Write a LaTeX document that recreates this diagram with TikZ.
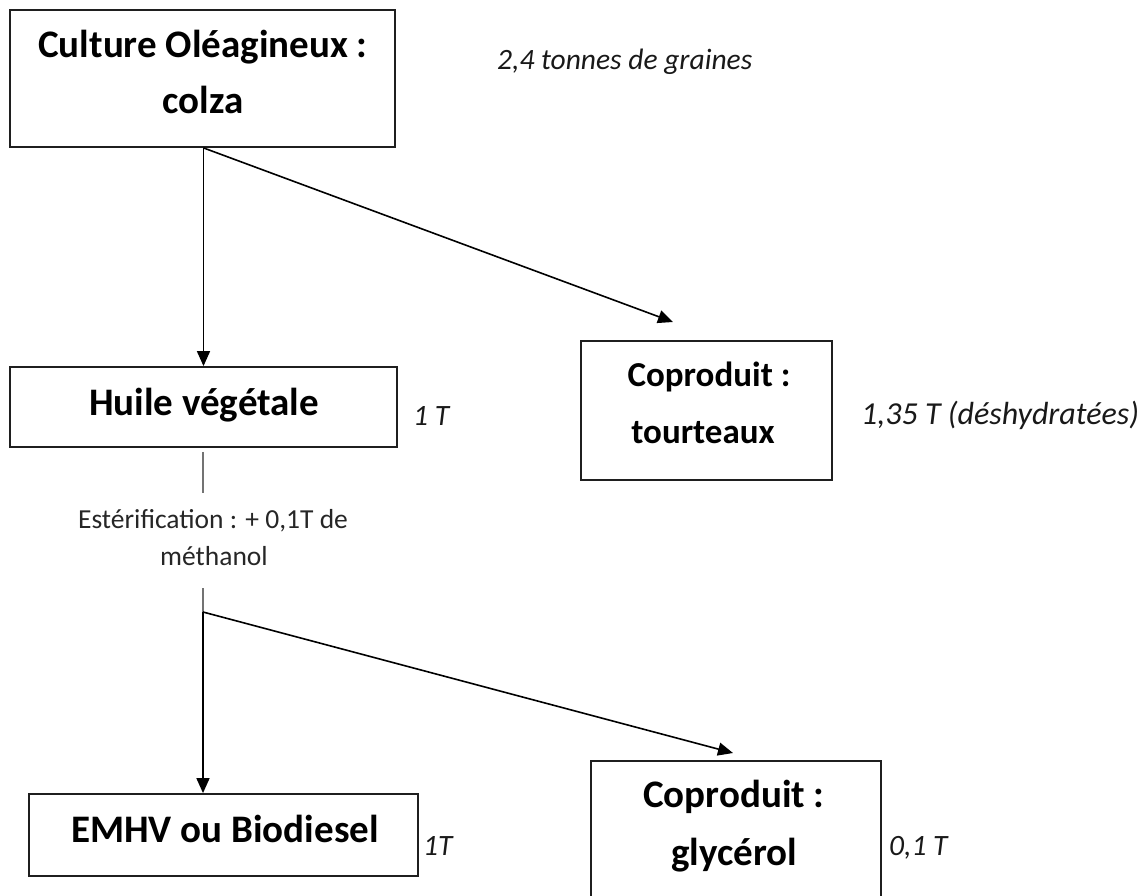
\documentclass[tikz,border=0pt]{standalone}
\usepackage{fontspec}
\setmainfont{Carlito}
\usetikzlibrary{arrows.meta}
\begin{document}
\begin{tikzpicture}[x=1pt,y=-1pt,
  boxshape/.style={draw=black!88, line width=1.8pt, inner sep=0pt},
  bigtext/.style={font=\bfseries\fontsize{39}{47}\selectfont, inner sep=0pt, anchor=base},
  midtext/.style={font=\bfseries\fontsize{35}{42}\selectfont, inner sep=0pt, anchor=base},
  qty/.style={font=\itshape\fontsize{29.5}{35}\selectfont, inner sep=0pt, anchor=base west, text=black!90},
  note/.style={font=\fontsize{27.5}{33}\selectfont, inner sep=0pt, anchor=base, text=black!85},
  flow/.style={line width=1.6pt, draw=black, -{Triangle[length=15pt,width=13pt]}},
  plain/.style={line width=1.5pt, draw=black!55}
]
\useasboundingbox (0,0) rectangle (1146,895);

% boxes
\node[boxshape, minimum width=385pt, minimum height=137pt] (culture) at (202.5,78.5) {};
\node[boxshape, minimum width=387pt, minimum height=80pt] (huile) at (203.5,407) {};
\node[boxshape, minimum width=251pt, minimum height=139pt] (tourteaux) at (706.5,410.5) {};
\node[boxshape, minimum width=389pt, minimum height=82pt] (emhv) at (223.5,835) {};
\node[boxshape, minimum width=290pt, minimum height=141pt] (glycerol) at (736,831.5) {};

% box texts
\node[bigtext] (cultureA) at (203,57) {Culture Oléagineux :};
\node[bigtext] (cultureB) at (203,113) {colza};
\node[bigtext] (huileT) at (204,415) {Huile végétale};
\node[midtext] (tourA) at (709,386) {Coproduit :};
\node[midtext] (tourB) at (703,443) {tourteaux};
\node[bigtext] (emhvT) at (225,842) {EMHV ou Biodiesel};
\node[bigtext] (glyA) at (734,807) {Coproduit :};
\node[bigtext] (glyB) at (734,865) {glycérol};

% quantities
\node[qty] (graines) at (497,69) {2,4 tonnes de graines};
\node[qty] (qhuile) at (413,425) {1 T};
\node[qty, font=\itshape\fontsize{32}{38}\selectfont] (qtour) at (861,424) {1,35 T (déshydratées)};
\node[qty] (qemhv) at (423,855) {1T};
\node[qty] (qgly) at (889,855) {0,1 T};

% esterification note
\node[note] (estA) at (213,528) {Estérification : + 0,1T de};
\node[note] (estB) at (214,565) {méthanol};

% connector points
\coordinate (tourtip) at (673,322);
\coordinate (estTop) at (203,493);
\coordinate (estBot) at (203,588);
\coordinate (split) at (203,612);
\coordinate (glytip) at (733,753);

% connectors
\draw[flow] (culture.south -| huile.north) -- (huile.north);
\draw[flow] (culture.south -| huile.north) -- (tourtip);
\draw[plain, shorten <=4pt] (huile.south -| estTop) -- (estTop);
\draw[plain] (estBot) -- (split);
\draw[flow] (split) -- (split |- emhv.north);
\draw[flow] (split) -- (glytip);
\end{tikzpicture}
\end{document}
